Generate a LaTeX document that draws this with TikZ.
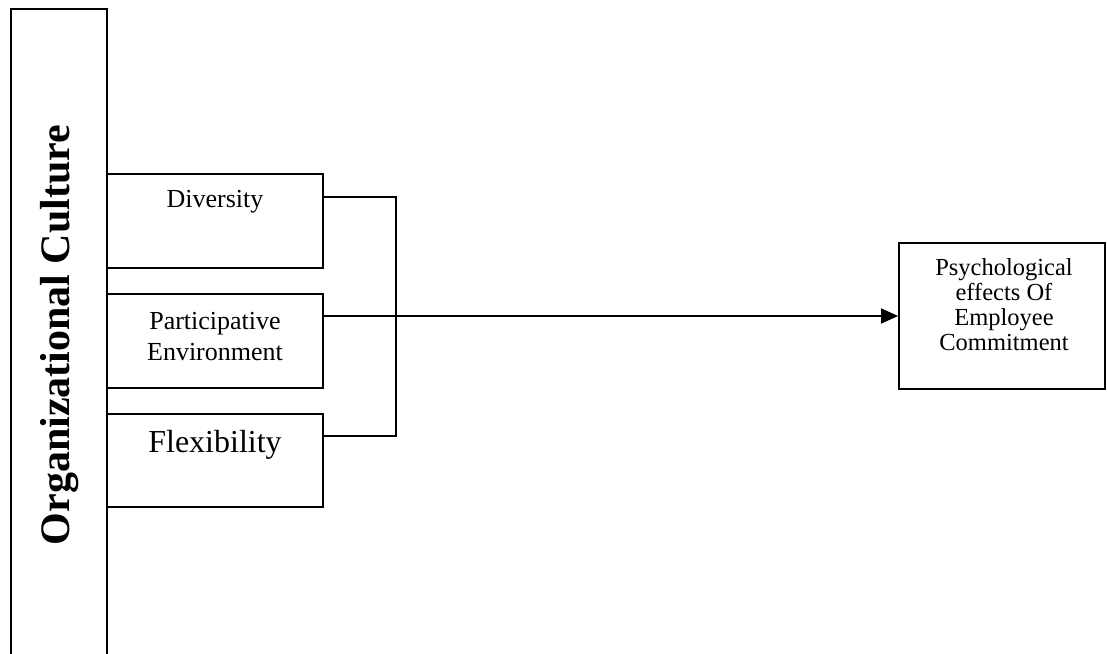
\documentclass[tikz,border=0pt]{standalone}
\usepackage{fontspec}
\setmainfont{Liberation Serif}
\usetikzlibrary{arrows.meta}
\begin{document}
\begin{tikzpicture}[x=1pt,y=-1pt,
  frame/.style={draw=black,line width=1.8pt,inner sep=0pt,minimum width=#1},
  conn/.style={draw=black,line width=1.6pt},
  txt/.style={inner sep=0pt,align=center}]
\useasboundingbox (0,0) rectangle (1107,653);
\begin{scope}
\clip (0,0) rectangle (1107,653);
% tall frame on the left with the rotated title
\node[frame=96pt,minimum height=700pt] (culture) at (59,359) {};
\node[txt,rotate=90,font=\fontsize{42}{46}\selectfont\bfseries] (title) at (60,335) {Organizational Culture};
\end{scope}
% the three dimension boxes
\node[frame=216pt,minimum height=94pt] (div) at (215,221) {};
\node[frame=216pt,minimum height=94pt] (part) at (215,341) {};
\node[frame=216pt,minimum height=93pt] (flex) at (215,460.5) {};
\node[txt,font=\fontsize{26}{29}\selectfont] (divt) at (215,202) {Diversity};
\node[txt,font=\fontsize{26}{31}\selectfont] (partt) at (215,337) {Participative\\Environment};
\node[txt,font=\fontsize{32}{36}\selectfont] (flext) at (215,445) {Flexibility};
% outcome box
\node[frame=206pt,minimum height=146pt] (out) at (1002,316) {};
\node[txt,font=\fontsize{24.5}{25}\selectfont] (outt) at (1004,305) {Psychological\\effects Of\\Employee\\Commitment};
% bracket joining the dimensions
\coordinate (bb) at (396,436);
\draw[conn] ([yshift=-24pt]div.north east) -| (bb) -- (bb -| flex.east);
\draw[conn,-{Triangle[length=17pt,width=15pt]}] (part.east |- out.west) -- (out.west);
\end{tikzpicture}
\end{document}
